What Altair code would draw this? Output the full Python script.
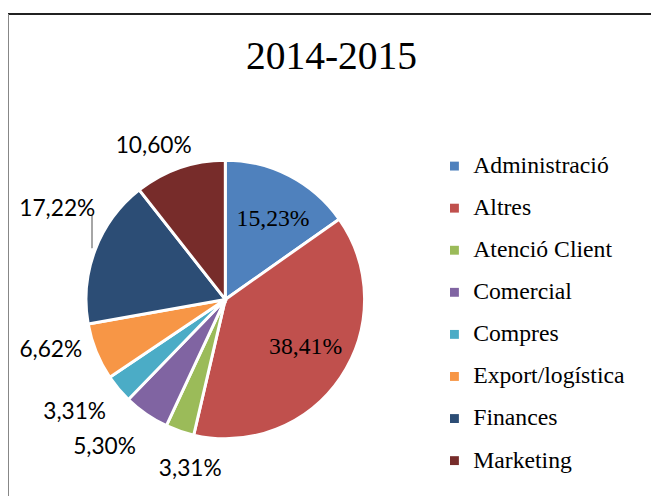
import altair as alt
import pandas as pd

categories = ["Administració", "Altres", "Atenció Client", "Comercial",
              "Compres", "Export/logística", "Finances", "Marketing"]
values = [15.23, 38.41, 3.31, 5.30, 3.31, 6.62, 17.22, 10.60]
colors = ["#4F81BD", "#C0504D", "#9BBB59", "#8064A2",
          "#4BACC6", "#F79646", "#2C4D75", "#772C2A"]
title_text = ["2014-2015"]
inside = ["Administració", "Altres"]

df = pd.DataFrame({
    "cat": categories,
    "value": values,
    "idx": list(range(len(categories))),
    "label": [f"{v:.2f}%".replace(".", ",") for v in values],
})

W, H = 651, 411
CX, CY = 220, 212

# label nudges (style only): category -> (dx, dy)
nudge = {
    "Administració": (6, 0), "Altres": (5, -3),
    "Atenció Client": (24, 0), "Comercial": (-19, 0),
    "Compres": (-13, -3), "Export/logística": (-8, -17),
    "Finances": (0, -27), "Marketing": (-13, 17),
}

base = alt.Chart(df).encode(
    theta=alt.Theta("value:Q", stack=True),
    order=alt.Order("idx:Q"),
)

pie = base.mark_arc(outerRadius=141, stroke="white", strokeWidth=3).encode(
    x=alt.value(CX), y=alt.value(CY),
    color=alt.Color("cat:N",
                    scale=alt.Scale(domain=categories, range=colors),
                    sort=categories,
                    legend=alt.Legend(title=None, orient="none",
                                      legendX=440, legendY=65,
                                      symbolType="square", symbolSize=81,
                                      symbolStrokeWidth=0,
                                      labelFont="Liberation Serif",
                                      labelFontSize=24, labelColor="black",
                                      labelOffset=7, rowPadding=18.6,
                                      padding=0, labelLimit=300)),
)

labels = []
for c in categories:
    dx, dy = nudge[c]
    if c in inside:
        mk = base.mark_text(radius=92, font="Liberation Serif", fontSize=24,
                            color="black", dx=dx, dy=dy)
    else:
        mk = base.mark_text(radius=182, font="Lato", fontSize=23,
                            color="black", dx=dx, dy=dy)
    labels.append(mk.encode(
        x=alt.value(CX), y=alt.value(CY),
        text=alt.condition(alt.FieldEqualPredicate(field="cat", equal=c),
                           alt.Text("label:N"), alt.value("")),
    ))

title = alt.Chart(pd.DataFrame({"t": title_text})).mark_text(
    font="Liberation Serif", fontSize=40, color="black",
    align="center", baseline="alphabetic").encode(
    text="t:N", x=alt.value(W / 2 + 2), y=alt.value(-21))

leader = alt.Chart(df).mark_rule(color="#A6A6A6", strokeWidth=1).encode(
    x=alt.value(85), y=alt.value(127), y2=alt.value(160))

border_top = alt.Chart(df).mark_rule(color="#222222", strokeWidth=1.5).encode(
    x=alt.value(0), x2=alt.value(W), y=alt.value(-77))
border_left = alt.Chart(df).mark_rule(color="#888888", strokeWidth=2).encode(
    x=alt.value(0), y=alt.value(-77), y2=alt.value(H))

chart = alt.layer(border_top, border_left, leader, title, pie, *labels).properties(
    width=W, height=H,
    padding={"left": 0, "top": 80, "right": 0, "bottom": 0},
    autosize=alt.AutoSizeParams(type="none"),
).configure_view(stroke=None)

chart.save("out.html", embed_options={"renderer": "svg", "actions": False})
